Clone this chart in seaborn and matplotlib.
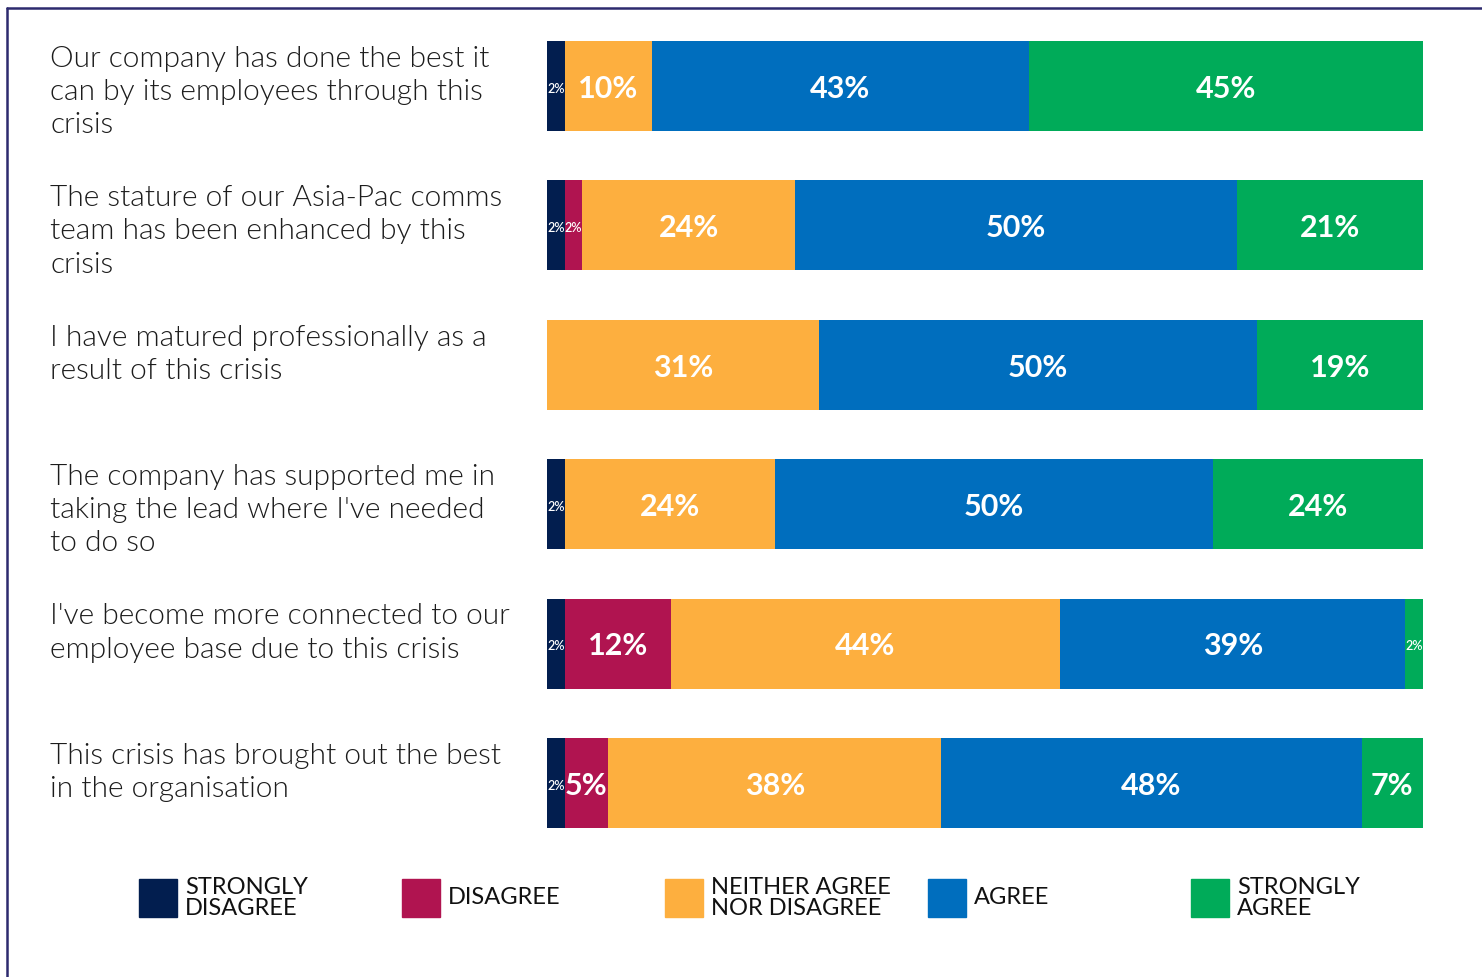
import numpy as np
import pandas as pd
import matplotlib
matplotlib.use("Agg")
import matplotlib.pyplot as plt
import matplotlib.transforms as mtransforms
from matplotlib.patches import Rectangle
from matplotlib.lines import Line2D
import seaborn as sns

# ---- data -------------------------------------------------------------
questions = [
    "Our company has done the best it\ncan by its employees through this\ncrisis",
    "The stature of our Asia-Pac comms\nteam has been enhanced by this\ncrisis",
    "I have matured professionally as a\nresult of this crisis",
    "The company has supported me in\ntaking the lead where I've needed\nto do so",
    "I've become more connected to our\nemployee base due to this crisis",
    "This crisis has brought out the best\nin the organisation",
]
categories = ["STRONGLY\nDISAGREE", "DISAGREE", "NEITHER AGREE\nNOR DISAGREE",
              "AGREE", "STRONGLY\nAGREE"]
strongly_disagree = [2, 2, 0, 2, 2, 2]
disagree = [0, 2, 0, 0, 12, 5]
neither = [10, 24, 31, 24, 44, 38]
agree = [43, 50, 50, 50, 39, 48]
strongly_agree = [45, 21, 19, 24, 2, 7]

colors = ["#021e4f", "#b01450", "#fdaf3f", "#006ebe", "#00ab59"]

# ---- styling ----------------------------------------------------------
sns.set_theme(style="white")
plt.rcParams["font.family"] = ["Lato", "DejaVu Sans"]

series = [strongly_disagree, disagree, neither, agree, strongly_agree]
values = np.array(series, dtype=float).T            # rows = questions
shares = values / values.sum(axis=1, keepdims=True) * 100
cum = np.cumsum(shares, axis=1)
n_rows = len(questions)

W, H = 1482, 977
fig = plt.figure(figsize=(W / 100, H / 100), dpi=100)
ax = fig.add_axes([547 / W, 1 - 852.7 / H, 876 / W, 836.4 / H])

bar_h = 0.646
rows = [f"q{i}" for i in range(n_rows)]

# stacked bars: draw cumulative totals from the widest layer down
for k in range(len(categories) - 1, -1, -1):
    df = pd.DataFrame({"row": rows, "cum": cum[:, k]})
    sns.barplot(data=df, x="cum", y="row", orient="h", color=colors[k],
                saturation=1, width=bar_h, ax=ax, linewidth=0)

ax.set_xlim(0, 100)
ax.set_ylim(n_rows - 0.5, -0.5)
ax.axis("off")

# segment value labels
for i in range(n_rows):
    left = 0.0
    for k in range(len(categories)):
        v = values[i, k]
        w = shares[i, k]
        if v > 0:
            small = v <= 2
            ax.text(left + w / 2, i + 0.02, f"{int(v)}%",
                    ha="center", va="center", color="white",
                    fontsize=9 if small else 22,
                    fontweight="semibold" if small else "bold")
        left += w

# question labels at the left
trans = mtransforms.blended_transform_factory(fig.transFigure, ax.transData)
for i, q in enumerate(questions):
    ax.text(50 / W, i - bar_h / 2 + 0.035, q, transform=trans, ha="left",
            va="top", fontsize=21.5, fontweight=300, color="#1c1c1c",
            linespacing=1.34)

# legend row
leg_x = [139, 402, 665, 928, 1191]
for x0, lab, c in zip(leg_x, categories, colors):
    fig.patches.append(Rectangle((x0 / W, 1 - 917 / H), 38 / W, 38 / H,
                                 transform=fig.transFigure, color=c))
    fig.text((x0 + 46) / W, 1 - 898 / H, lab, ha="left", va="center",
             fontsize=17, color="#111111", linespacing=1.04)

# frame lines along the top and left
border = "#2d2a6e"
fig.add_artist(Line2D([7 / W, 1], [1 - 8 / H, 1 - 8 / H],
                      transform=fig.transFigure, color=border, lw=1.8))
fig.add_artist(Line2D([7 / W, 7 / W], [0, 1 - 8 / H],
                      transform=fig.transFigure, color=border, lw=1.8))

fig.savefig("out.png", dpi=100, facecolor="white")
